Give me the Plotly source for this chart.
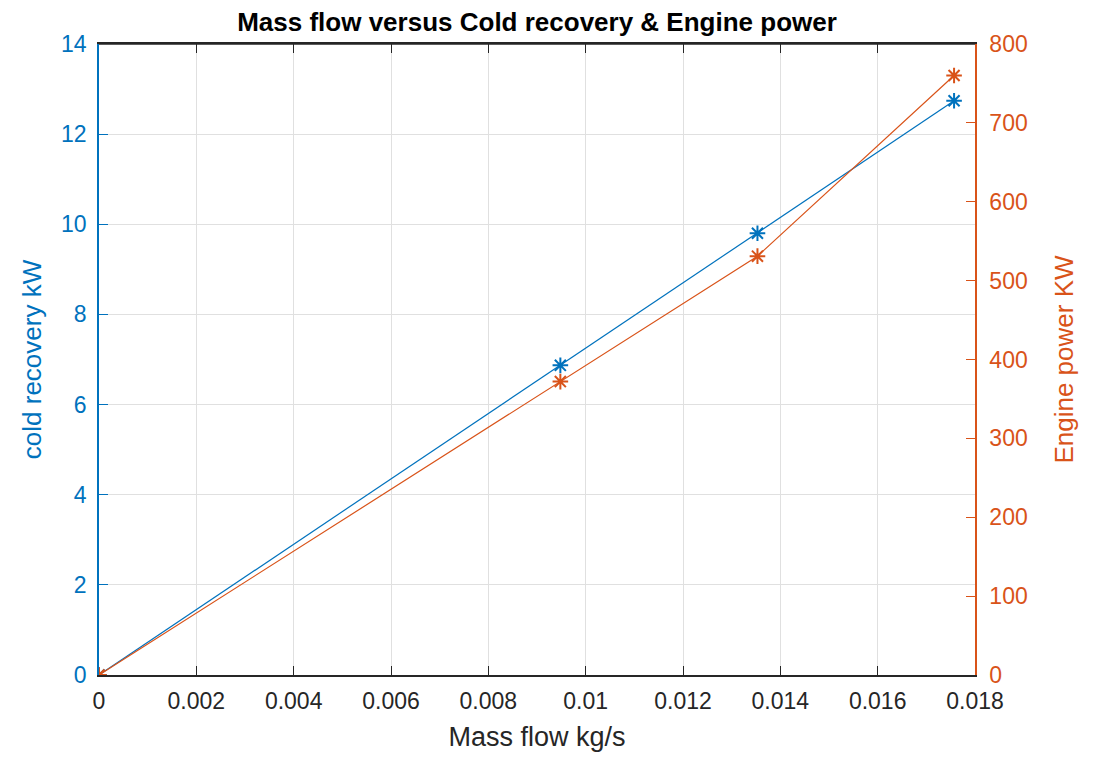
import plotly.graph_objects as go

mass_flow = [0, 0.00948, 0.01353, 0.01757]
cold_recovery = [0, 6.87, 9.80, 12.74]
engine_power = [0, 372, 531, 760]

x_ticks = [0, 0.002, 0.004, 0.006, 0.008, 0.01, 0.012, 0.014, 0.016, 0.018]
x_tick_text = ["0", "0.002", "0.004", "0.006", "0.008", "0.01", "0.012", "0.014", "0.016", "0.018"]
left_ticks = [0, 2, 4, 6, 8, 10, 12, 14]
right_ticks = [0, 100, 200, 300, 400, 500, 600, 700, 800]

BLUE = "#0072BD"
ORANGE = "#D95319"
DARK = "#262626"
FONT = "Liberation Sans, Arial, sans-serif"

fig = go.Figure()
fig.add_trace(go.Scatter(
    x=mass_flow, y=cold_recovery, mode="lines+markers",
    line=dict(color=BLUE, width=1.2),
    marker=dict(symbol="asterisk-open", size=13, color=BLUE, line=dict(color=BLUE, width=2)),
    yaxis="y", showlegend=False))
fig.add_trace(go.Scatter(
    x=mass_flow, y=engine_power, mode="lines+markers",
    line=dict(color=ORANGE, width=1.2),
    marker=dict(symbol="asterisk-open", size=13, color=ORANGE, line=dict(color=ORANGE, width=2)),
    yaxis="y2", showlegend=False))

fig.update_layout(
    width=1093, height=749,
    margin=dict(l=91, r=126, t=36, b=82),
    paper_bgcolor="white", plot_bgcolor="white",
    font=dict(family=FONT, size=23, color=DARK),
    title=dict(text="<b>Mass flow versus Cold recovery & Engine power</b>",
               x=0.5, xref="paper", xanchor="center", y=0.981, yanchor="middle",
               font=dict(size=26, color="black")),
    xaxis=dict(
        range=[0, 0.018], tickvals=x_ticks, ticktext=x_tick_text,
        showgrid=True, gridcolor="#E0E0E0", gridwidth=1,
        showline=True, linecolor=DARK, linewidth=1.5, mirror="ticks",
        ticks="inside", ticklen=9, tickcolor=DARK, tickwidth=1.2,
        zeroline=False, ticklabelstandoff=5, automargin=False,
        tickfont=dict(size=23, color=DARK),
        title=dict(text="Mass flow kg/s", font=dict(size=27, color=DARK), standoff=14),
    ),
    yaxis=dict(
        range=[0, 14], tickvals=left_ticks,
        showgrid=True, gridcolor="#E0E0E0", gridwidth=1,
        showline=True, linecolor=BLUE, linewidth=1.5,
        ticks="inside", ticklen=9, tickcolor=BLUE, tickwidth=1.2,
        zeroline=False, ticklabelstandoff=6, automargin=False,
        tickfont=dict(size=23, color=BLUE),
        title=dict(text="cold recovery kW", font=dict(size=26, color=BLUE), standoff=12),
    ),
    yaxis2=dict(
        range=[0, 800], tickvals=right_ticks,
        overlaying="y", side="right",
        showgrid=False,
        showline=True, linecolor=ORANGE, linewidth=1.5,
        ticks="inside", ticklen=9, tickcolor=ORANGE, tickwidth=1.2,
        zeroline=False, ticklabelstandoff=8, automargin=False,
        tickfont=dict(size=23, color=ORANGE),
        title=dict(text="Engine power KW", font=dict(size=26, color=ORANGE), standoff=28),
    ),
)
fig.add_shape(type="line", xref="paper", yref="paper", x0=0, x1=1, y0=1, y1=1,
              line=dict(color=DARK, width=1.5))

fig.write_html("out.html")
